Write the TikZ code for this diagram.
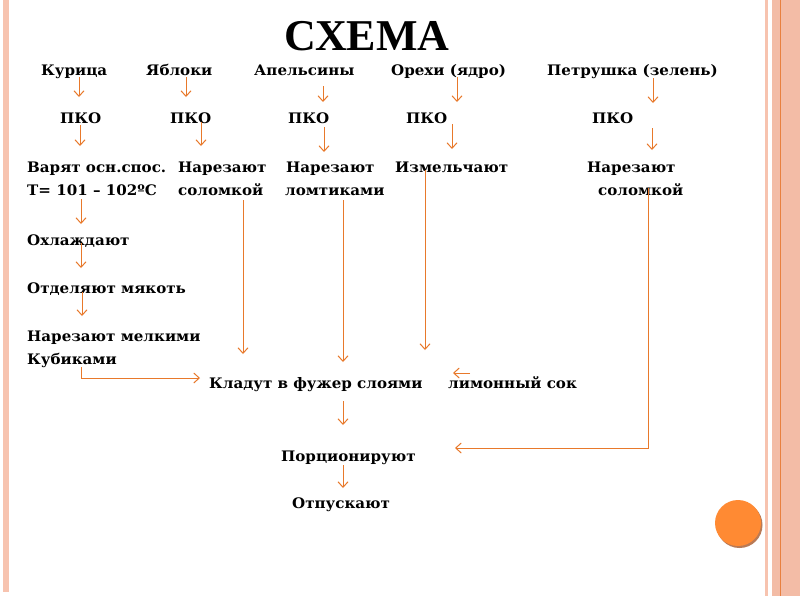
\documentclass[tikz,border=0pt]{standalone}
\usepackage{fontspec}
\setmainfont[FakeStretch=1.04]{DejaVu Serif}
\newfontfamily\titlefont{Liberation Serif}
\usetikzlibrary{arrows.meta,calc}
\definecolor{arrc}{HTML}{E8792B}
\definecolor{stripc}{HTML}{F7C3AF}
\definecolor{stripd}{HTML}{F3BCA6}
\definecolor{linec}{HTML}{E8803F}
\definecolor{dotc}{HTML}{FF8A33}
\definecolor{dotsh}{HTML}{B97A55}
\newcommand\varr[5]{\draw[arr] ($(#1.base -| #3,0)+(0,#4)$) -- ($(#2.base -| #3,0)+(0,#5)$);}
\begin{document}
\begin{tikzpicture}[x=1pt,y=-1pt,
  txt/.style={anchor=base west,inner sep=0pt,font=\bfseries\fontsize{14.5}{17}\selectfont},
  arr/.style={draw=arrc,line width=1pt,-{Straight Barb[length=5.5pt,width=10pt]}}]
\useasboundingbox (0,0) rectangle (800,600);
\fill[white] (0,0) rectangle (800,600);
% decorative strips
\fill[stripc] (3,0) rectangle (9,592);
\fill[stripc] (765,0) rectangle (768,596);
\fill[stripd] (772,0) rectangle (800,596);
\draw[linec,line width=0.8pt] (780,0) -- (780,596);
% dot
\fill[dotsh] (739.5,525) circle (23);
\fill[dotc] (738,523) circle (23);
% title
\node[anchor=base,inner sep=0pt,font=\titlefont\bfseries\fontsize{44}{48}\selectfont] (title) at (367,50) {СХЕМА};
% row 1
\node[txt] (kur) at (41,75) {Курица};
\node[txt] (yab) at (146,75) {Яблоки};
\node[txt] (ape) at (254,75) {Апельсины};
\node[txt] (ore) at (391,75) {Орехи (ядро)};
\node[txt] (pet) at (547,75) {Петрушка (зелень)};
% row 2
\node[txt] (pko1) at (60,123) {ПКО};
\node[txt] (pko2) at (170,123) {ПКО};
\node[txt] (pko3) at (288,123) {ПКО};
\node[txt] (pko4) at (406,123) {ПКО};
\node[txt] (pko5) at (592,123) {ПКО};
% row 3
\node[txt] (var) at (27,172) {Варят осн.спос.};
\node[txt] (nar1) at (178,172) {Нарезают};
\node[txt] (nar2) at (286,172) {Нарезают};
\node[txt] (izm) at (395,172) {Измельчают};
\node[txt] (nar3) at (587,172) {Нарезают};
% row 4
\node[txt] (tem) at (27,195) {Т= 101 – 102ºС};
\node[txt] (sol1) at (178,195) {соломкой};
\node[txt] (lom) at (285,195) {ломтиками};
\node[txt] (sol2) at (598,195) {соломкой};
% chicken chain
\node[txt] (ohl) at (27,245) {Охлаждают};
\node[txt] (otd) at (27,293) {Отделяют мякоть};
\node[txt] (nar4) at (27,341) {Нарезают мелкими};
\node[txt] (kub) at (27,364) {Кубиками};
% assembly
\node[txt] (klad) at (209,388) {Кладут в фужер слоями};
\node[txt] (lim) at (448,388) {лимонный сок};
\node[txt] (porc) at (281,461) {Порционируют};
\node[txt] (otp) at (292,508) {Отпускают};
% arrows row1 -> row2
\varr{kur}{pko1}{79}{2}{-26}
\varr{yab}{pko2}{186}{2}{-26}
\varr{ape}{pko3}{323}{11}{-21}
\varr{ore}{pko4}{457}{2}{-21}
\varr{pet}{pko5}{653}{3}{-20}
% row2 -> row3
\varr{pko1}{var}{80}{2}{-26}
\varr{pko2}{nar1}{201}{-1}{-26}
\varr{pko3}{nar2}{324}{4}{-20}
\varr{pko4}{izm}{452}{1}{-23}
\varr{pko5}{nar3}{652}{5}{-22}
% chicken chain
\varr{tem}{ohl}{81}{4}{-21}
\varr{ohl}{otd}{81}{-2}{-25}
\varr{otd}{nar4}{82}{-1}{-25}
\draw[arr] ($(kub.base -| 81,0)+(0,3)$) |- ($(klad.base west)+(-9,-10)$);
% into glass
\varr{sol1}{klad}{243}{5}{-34}
\varr{lom}{klad}{343}{5}{-26}
\varr{izm}{klad}{425}{-2}{-38}
\draw[arr] ($(lim.base west)+(22,-15)$) -- ($(lim.base west)+(5,-15)$);
\draw[arr] ($(sol2.base -| 648,0)+(0,-7)$) |- ($(porc.base -| 455,0)+(0,-13)$);
\varr{klad}{porc}{343}{13}{-36}
\varr{porc}{otp}{343}{4}{-20}
\end{tikzpicture}
\end{document}
